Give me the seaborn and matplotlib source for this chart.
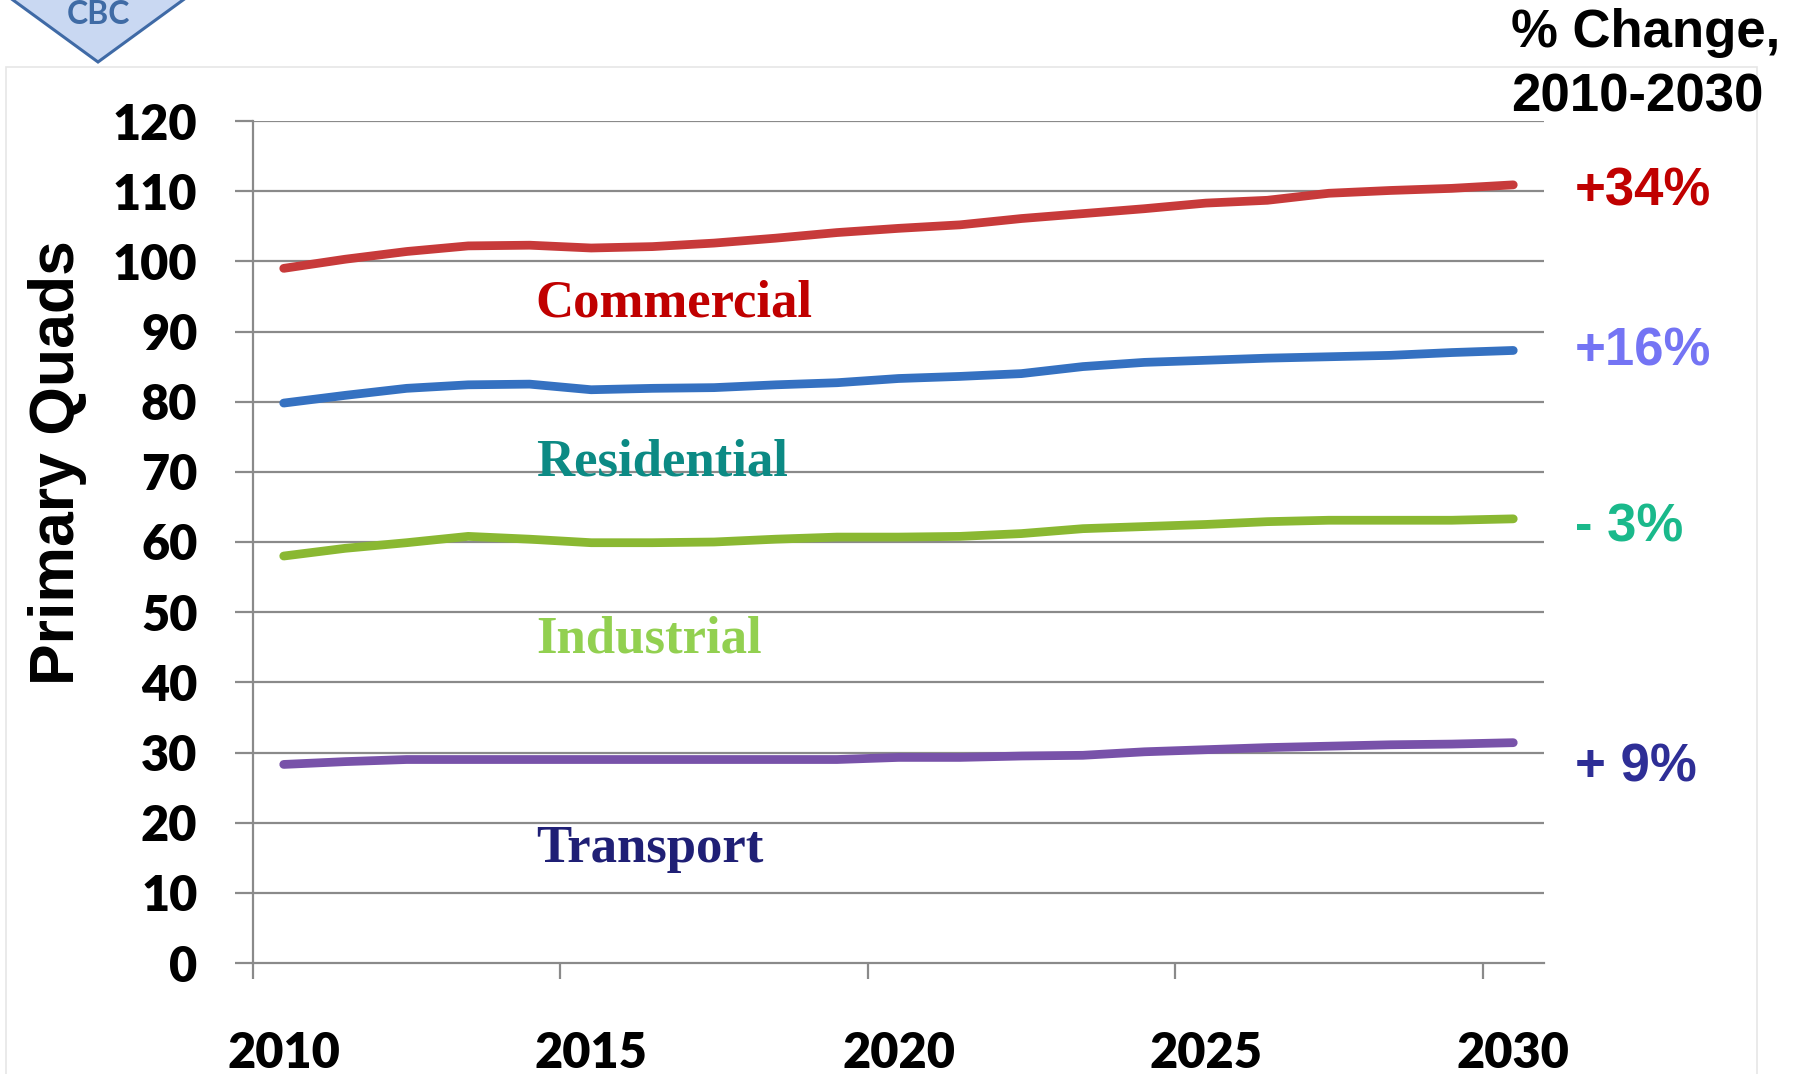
import matplotlib
matplotlib.use("Agg")
import matplotlib.pyplot as plt
import matplotlib.patches as mpatches
import seaborn as sns
import pandas as pd
import numpy as np

years = list(range(2010, 2031))
commercial = [99.0, 100.3, 101.4, 102.2, 102.3, 101.9, 102.1, 102.6, 103.3, 104.1, 104.7,
              105.2, 106.1, 106.8, 107.5, 108.3, 108.7, 109.7, 110.1, 110.4, 110.9]
residential = [79.8, 80.9, 81.9, 82.4, 82.5, 81.7, 81.9, 82.0, 82.4, 82.7, 83.3,
               83.6, 84.0, 85.0, 85.6, 85.9, 86.2, 86.4, 86.6, 87.0, 87.3]
industrial = [58.0, 59.1, 59.9, 60.8, 60.4, 59.9, 59.9, 60.0, 60.4, 60.7, 60.7,
              60.8, 61.2, 61.9, 62.2, 62.5, 62.9, 63.1, 63.1, 63.1, 63.3]
transport = [28.3, 28.7, 29.0, 29.0, 29.0, 29.0, 29.0, 29.0, 29.0, 29.0, 29.3,
             29.3, 29.5, 29.6, 30.1, 30.4, 30.7, 30.9, 31.1, 31.2, 31.4]

sectors = ["Commercial", "Residential", "Industrial", "Transport"]
line_colors = ["#C73A3A", "#3571C1", "#8AB832", "#7852A9"]
label_colors = ["#C00000", "#0C8A84", "#92D050", "#1F1F75"]
pct_labels = ["+34%", "+16%", "- 3%", "+ 9%"]
pct_colors = ["#C00000", "#7474F4", "#1AB98B", "#2E2E96"]
y_ticks = list(range(0, 121, 10))
x_label_years = [2010, 2015, 2020, 2025, 2030]

df = pd.DataFrame({
    "Year": years * 4,
    "Quads": commercial + residential + industrial + transport,
    "Sector": sum([[s] * len(years) for s in sectors], []),
})

sns.set_style("white")
plt.rcParams["font.family"] = ["Liberation Sans", "DejaVu Sans"]
plt.rcParams["text.color"] = "black"
plt.rcParams["xtick.color"] = "black"
plt.rcParams["ytick.color"] = "black"

W, H = 1800, 1074
fig = plt.figure(figsize=(W / 100, H / 100), dpi=100)
fig.patch.set_facecolor("white")

def fx(px):
    return px / W

def fy(py):
    return 1 - py / H

ax_left, ax_right, ax_top, ax_bottom = 253, 1544, 121, 963
ax = fig.add_axes([fx(ax_left), fy(ax_bottom), (ax_right - ax_left) / W, (ax_bottom - ax_top) / H])

grid_c = "#8a8a8a"
for yv in y_ticks[1:]:
    ax.axhline(yv, color=grid_c, lw=1.6, zorder=1)

sns.lineplot(data=df, x="Year", y="Quads", hue="Sector", palette=dict(zip(sectors, line_colors)),
             lw=6.3, ax=ax, legend=False, zorder=3)
for l in ax.get_lines():
    l.set_solid_capstyle("round")
    l.set_solid_joinstyle("round")

ax.set_xlim(2009.5, 2030.5)
ax.set_ylim(0, 120)
ax.set_xlabel("")
ax.set_ylabel("")

for s in ["top", "right"]:
    ax.spines[s].set_visible(False)
for s in ["left", "bottom"]:
    ax.spines[s].set_color(grid_c)
    ax.spines[s].set_linewidth(1.6)

ax.set_yticks(y_ticks)
ax.set_yticklabels([str(v) for v in y_ticks], fontfamily="Lato", fontweight="heavy", fontsize=35,
                   color="black")
ax.tick_params(axis="y", which="major", direction="out", length=13, width=1.6, color=grid_c,
               pad=27, left=True, labelcolor="black")

ax.set_xticks([y - 0.5 for y in x_label_years])
ax.set_xticklabels([])
ax.set_xticks(x_label_years, minor=True)
ax.set_xticklabels([str(v) for v in x_label_years], minor=True,
                   fontfamily="Lato", fontweight="heavy", fontsize=35, color="black")
ax.tick_params(axis="x", which="major", direction="out", length=11.5, width=1.6, color=grid_c, bottom=True)
ax.tick_params(axis="x", which="minor", length=0, pad=49, bottom=True, labelcolor="black")

# series labels
label_pos = [(2014.1, 92.1), (2014.1, 69.5), (2014.1, 44.3), (2014.1, 14.4)]
for name, c, (xx, yy) in zip(sectors, label_colors, label_pos):
    ax.text(xx, yy, name, color=c, fontfamily="Liberation Serif", fontweight="bold",
            fontsize=38, ha="left", va="baseline", zorder=4)

# percent change labels
pct_y = [192, 351, 527, 768]
for t, c, py in zip(pct_labels, pct_colors, pct_y):
    fig.text(fx(1575), fy(py), t, color=c, fontweight="bold", fontsize=38, ha="left", va="center")

fig.text(fx(1511), fy(47), "% Change,", color="black", fontweight="bold", fontsize=38,
         ha="left", va="baseline")
fig.text(fx(1511), fy(112), "2010-2030", color="black", fontweight="bold", fontsize=38,
         ha="left", va="baseline")

fig.text(fx(28), fy(463), "Primary Quads", rotation=90, color="black", fontweight="bold",
         fontsize=45, ha="left", va="center")

# faint frame
frame = mpatches.Rectangle((fx(6), fy(1080)), fx(1757 - 6), (1080 - 67) / H, transform=fig.transFigure,
                           fill=False, edgecolor="#e6e6e6", lw=1.2, zorder=0)
fig.patches.append(frame)

# logo diamond
diamond = mpatches.Polygon([(fx(13), fy(0)), (fx(98), fy(62)), (fx(183), fy(0)), (fx(98), fy(-62))],
                           closed=True, transform=fig.transFigure, facecolor="#C9D8F2",
                           edgecolor="#3F6AA6", lw=2.2, zorder=5)
fig.patches.append(diamond)
fig.text(fx(98), fy(14), "CBC", color="#3F6BA5", fontfamily="Lato", fontweight="bold",
         fontsize=23, ha="center", va="center", zorder=6)

fig.savefig("out.png", dpi=100, facecolor="white")
